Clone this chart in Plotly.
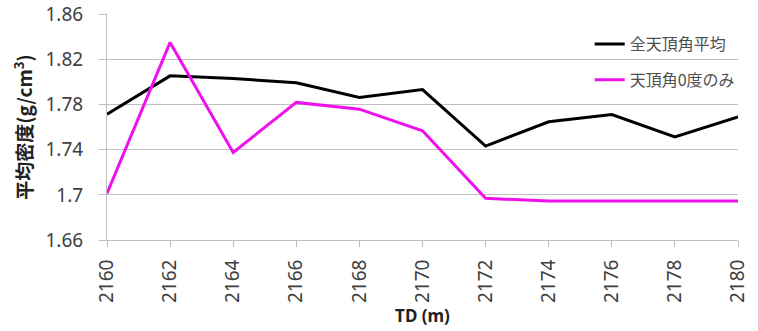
import plotly.graph_objects as go

# Measured depth (m) and average density (g/cm^3)
td = [2160, 2162, 2164, 2166, 2168, 2170, 2172, 2174, 2176, 2178, 2180]
density_all = [1.7715, 1.8054, 1.8031, 1.7992, 1.7863, 1.7933,
               1.7432, 1.7647, 1.7712, 1.7514, 1.7691]
density_zero = [1.7013, 1.8350, 1.7376, 1.7819, 1.7759, 1.7567,
                1.6969, 1.6945, 1.6945, 1.6945, 1.6945]

series_names = ["全天頂角平均", "天頂角0度のみ"]
y_ticks = [1.66, 1.70, 1.74, 1.78, 1.82, 1.86]
y_ticktext = ["1.66", "1.7", "1.74", "1.78", "1.82", "1.86"]
x_ticks = td

FONT = "Noto Sans, Open Sans, Noto Sans CJK JP, sans-serif"
CJK = "Noto Sans CJK JP, sans-serif"
GRID = "#bfbfbf"
TEXT = "#404040"

fig = go.Figure()
fig.add_trace(go.Scatter(x=td, y=density_all, mode="lines", name=series_names[0],
                         line=dict(color="#000000", width=3), legendgroup="a"))
fig.add_trace(go.Scatter(x=td, y=density_zero, mode="lines", name=series_names[1],
                         line=dict(color="#ee11ee", width=3), legendgroup="b"))

fig.update_layout(
    width=758, height=331,
    margin=dict(l=107, r=20, t=14, b=91, autoexpand=False),
    paper_bgcolor="white", plot_bgcolor="white",
    font=dict(family=FONT, color=TEXT),
    legend=dict(x=0.765, y=0.942, xanchor="left", yanchor="top",
                bgcolor="rgba(0,0,0,0)", font=dict(family=CJK, size=16, color="#505050"),
                tracegroupgap=12, traceorder="grouped", itemwidth=30),
    xaxis=dict(range=[2160, 2180], tickvals=x_ticks, tickangle=-90,
               showgrid=False, showline=True, linecolor=GRID, linewidth=1,
               ticks="outside", ticklen=6, tickcolor=GRID, automargin=False,
               tickfont=dict(size=19, color=TEXT), ticklabelstandoff=5,
               title=dict(text="<b>TD (m)</b>", font=dict(size=17, color="#222222"),
                          standoff=8),
               zeroline=False),
    yaxis=dict(range=[1.66, 1.8602], tickvals=y_ticks, ticktext=y_ticktext,
               showgrid=True, gridcolor=GRID, gridwidth=1,
               showline=True, linecolor=GRID, linewidth=1,
               ticks="outside", ticklen=7, tickcolor=GRID, automargin=False,
               tickfont=dict(size=19, color=TEXT), ticklabelstandoff=12,
               title=dict(text="<b>平均密度(g/cm<sup>3</sup>)</b>",
                          font=dict(family=CJK, size=19, color="#222222"), standoff=7),
               zeroline=False),
)

fig.write_html("out.html")
